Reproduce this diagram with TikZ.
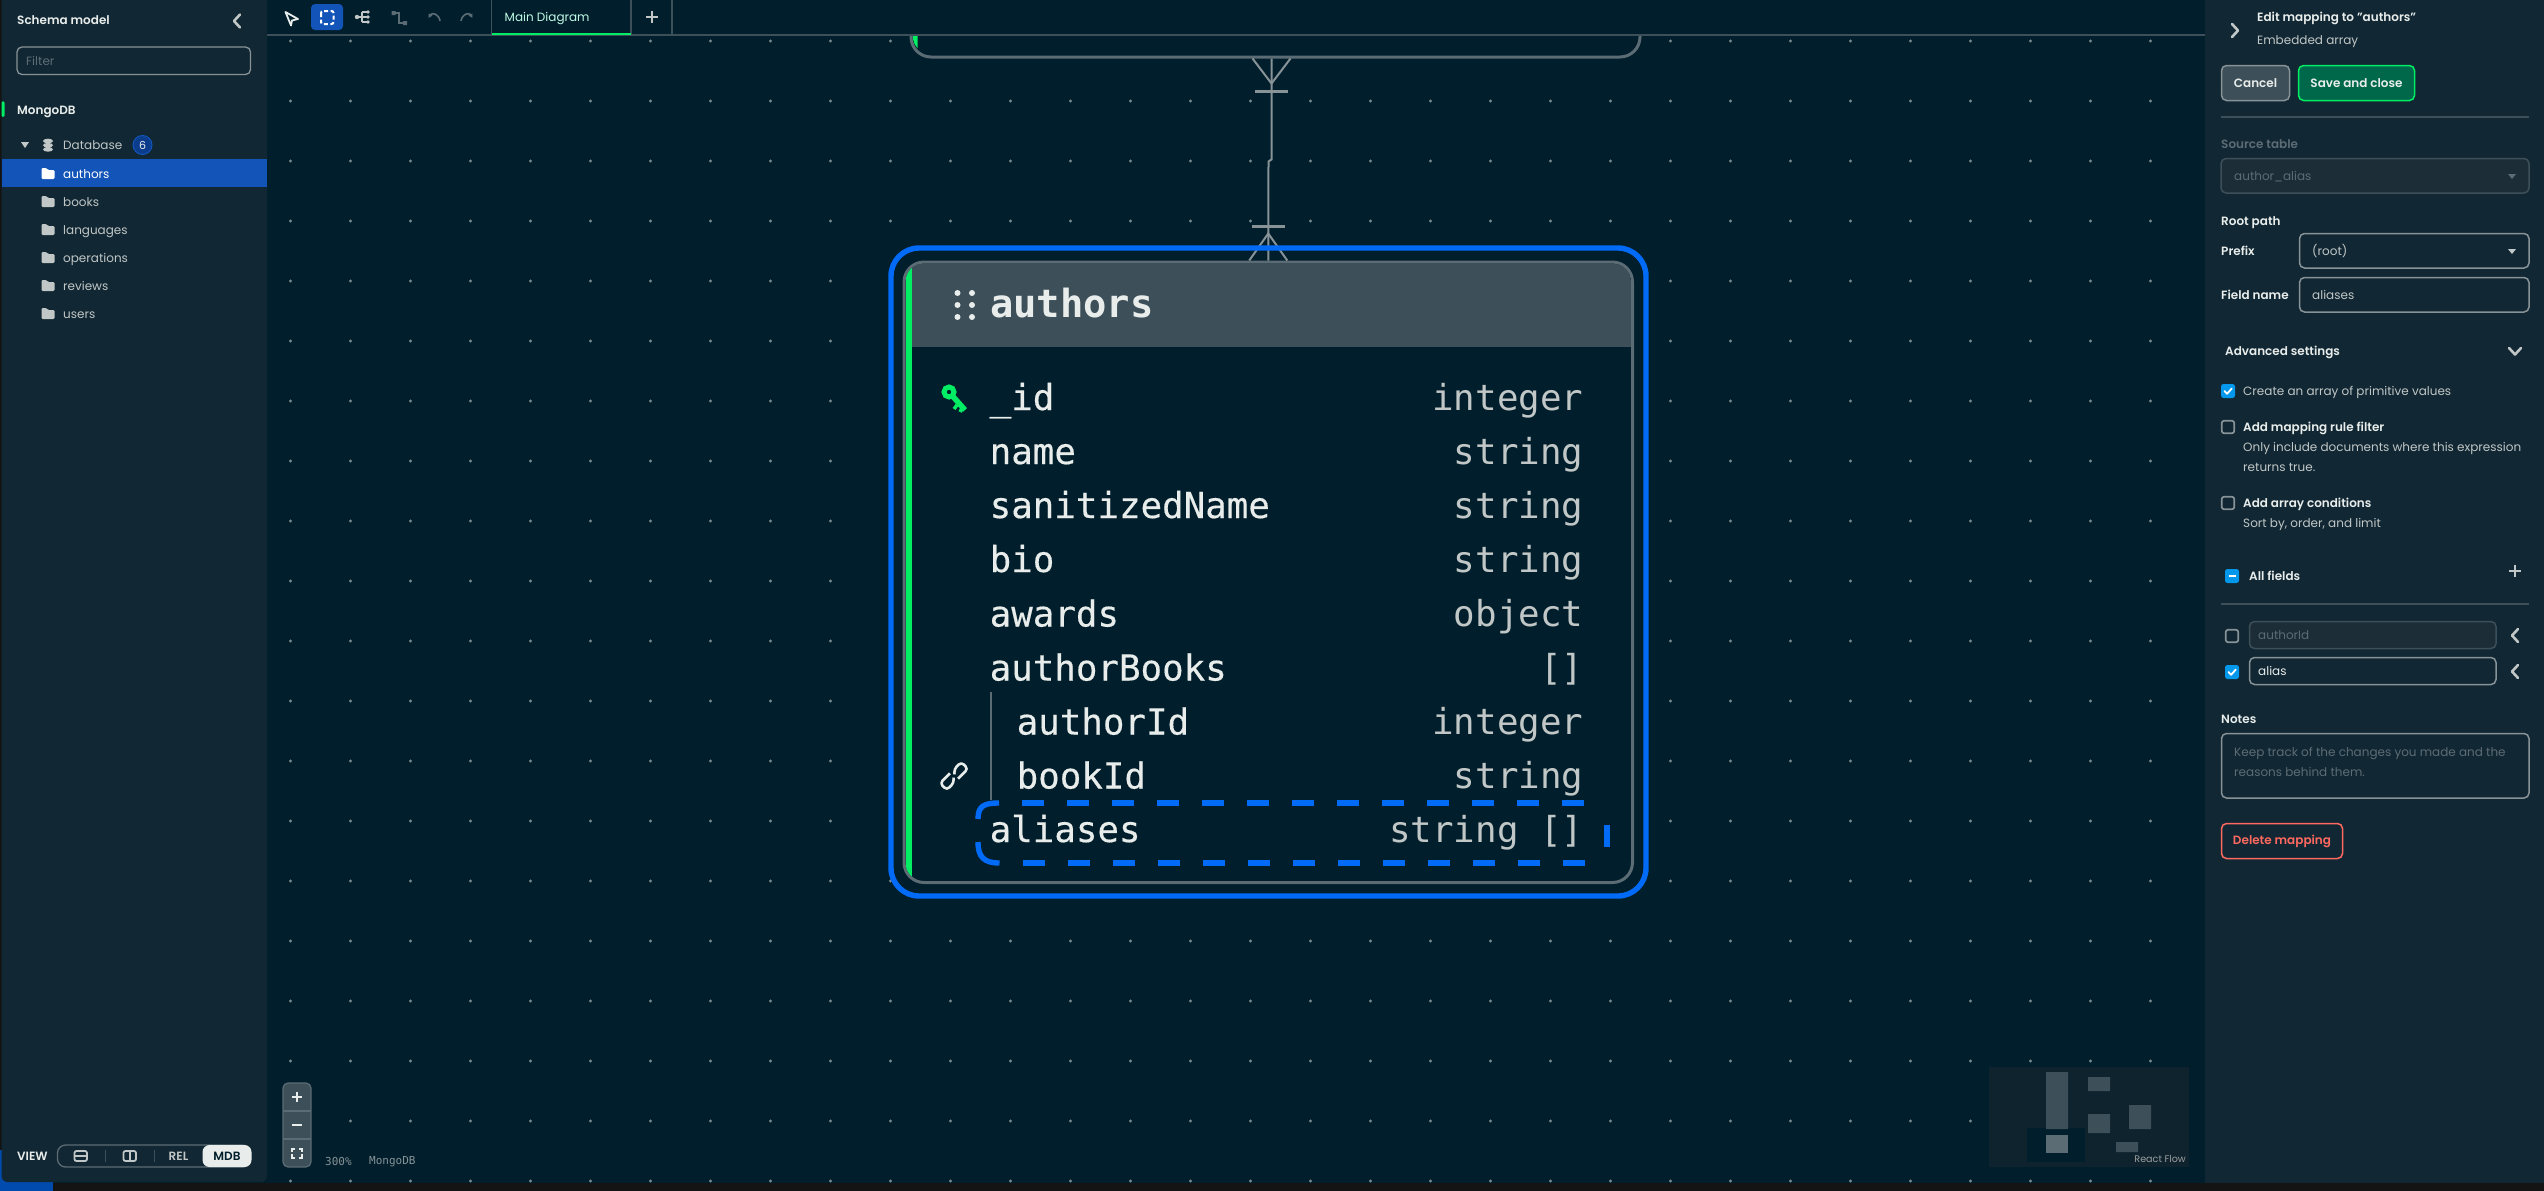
\documentclass[tikz,border=0pt]{standalone}
\usepackage{fontspec}
\usetikzlibrary{arrows.meta}
\setmainfont[BoldFont={Poppins SemiBold}]{Poppins}
\newfontfamily\monof{DejaVu Sans Mono}
\newfontfamily\monofb[FakeBold=0.35]{DejaVu Sans Mono}
\definecolor{canvasbg}{HTML}{001E2B}
\definecolor{panelbg}{HTML}{112733}
\definecolor{headbg}{HTML}{3D4F58}
\definecolor{edgegray}{HTML}{5C6C75}
\definecolor{midgray}{HTML}{889397}
\definecolor{softtxt}{HTML}{C1C7C6}
\definecolor{txtw}{HTML}{E8EDEB}
\definecolor{selblue}{HTML}{016BF8}
\definecolor{rowblue}{HTML}{1254B7}
\definecolor{mgreen}{HTML}{00ED64}
\definecolor{chkblue}{HTML}{0498EC}
\definecolor{disbg}{HTML}{1C2D38}
\definecolor{redc}{HTML}{FF6960}
\definecolor{dotc}{HTML}{7A8A90}
\definecolor{tabtxt}{HTML}{C0FAE6}
\definecolor{badgec}{HTML}{0C3C8C}
\definecolor{miniback}{HTML}{0F232E}
\definecolor{savebg}{HTML}{00684A}
\tikzset{
  ui/.style={inner sep=0pt,anchor=base west,text=softtxt,font=\fontsize{12}{14}\selectfont,yshift=-4.3pt},
  uib/.style={inner sep=0pt,anchor=base west,text=txtw,font=\fontsize{12}{14}\selectfont\bfseries,yshift=-4.3pt},
  fname/.style={inner sep=0pt,anchor=base west,text=txtw,font=\monofb\fontsize{35.8}{40}\selectfont},
  ftype/.style={inner sep=0pt,anchor=base east,text=softtxt,font=\monof\fontsize{35.8}{40}\selectfont},
  btn/.style={inner sep=0pt,rounded corners=5pt,line width=1.5pt,font=\fontsize{12}{14}\selectfont\bfseries},
  inp/.style={rounded corners=5pt,line width=1.5pt,draw=midgray,fill=panelbg},
  disinp/.style={rounded corners=5pt,line width=1.5pt,draw=headbg,fill=disbg},
  chev/.style={line width=2.6pt,line cap=round,line join=round},
  conn/.style={draw=midgray,line width=2pt},
  pics/folder/.style={code={
    \fill[#1,rounded corners=1.2pt] (-6.5,-6) -- (-1.5,-6) -- (0,-4) -- (6.5,-4) -- (6.5,5) -- (-6.5,5) -- cycle;}},
  pics/boxon/.style={code={
    \fill[chkblue,rounded corners=2.5pt] (-7,-7) rectangle (7,7);
    \draw[white,line width=1.8pt,line cap=round,line join=round] (-3.5,0) -- (-1,2.8) -- (3.8,-2.5);}},
  pics/boxoff/.style={code={
    \draw[midgray,line width=1.7pt,rounded corners=2.5pt] (-6.3,-6.3) rectangle (6.3,6.3);}}
}
\begin{document}
\begin{tikzpicture}[x=1pt,y=-1pt]
\useasboundingbox (0,0) rectangle (2544,1191);
% base
\fill[black!92] (0,0) rectangle (2544,1191);
\fill[canvasbg] (1.5,0) rectangle (2544,1183);
\fill[black!92] (0,1183) rectangle (2544,1191);
\fill[selblue!70!black] (0,1150) rectangle (53,1191);
% dots
\foreach \i in {0,...,32}{\foreach \j in {0,...,19}{
  \fill[dotc] ({290.5+60*\i},{41+60*\j}) circle (1.6);}}
% parent table
\node[draw=edgegray,fill=canvasbg,line width=3pt,rounded corners=20pt,inner sep=0pt,minimum width=729pt,minimum height=157pt] (parent) at (1275.5,-21.5) {};
\fill[mgreen] (912.8,36) -- (917.5,36) -- (917.5,48) .. controls (914.5,45) and (913,41) .. cycle;
% toolbar
\fill[canvasbg] (267,0) rectangle (2205,35);
\draw[headbg,line width=1.2pt] (267,35) -- (2205,35);
\fill[rowblue,rounded corners=4pt] (311,4) rectangle (343,30);
\draw[white,line width=2pt,dash pattern=on 4pt off 2.5pt,rounded corners=2pt] (321,11) rectangle (333.5,24);
\draw[txtw,line width=1.8pt,line join=round] (285.5,12) -- (298,19) -- (292,20.5) -- (291,25.5) -- cycle;
\draw[softtxt,line width=1.5pt] (357,17) -- (362,17) (362,12) -- (362,22) (362,12) -- (368,12) (362,17) -- (368,17) (362,22) -- (368,22);
\fill[softtxt] (357,17) circle (2.2) (368,12) circle (1.8) (368,17) circle (1.8) (368,22) circle (1.8);
\draw[edgegray,line width=1.8pt] (393,13) -- (399,13) -- (399,23) -- (405,23);
\fill[edgegray] (391.5,11) rectangle (395.5,15) (403,21) rectangle (407,25);
\draw[edgegray,line width=1.6pt,-{Latex[length=4pt,width=5pt]}] (440,21) .. controls (439,14) and (432,12) .. (428.5,18);
\draw[edgegray,line width=1.6pt,-{Latex[length=4pt,width=5pt]}] (461,21) .. controls (462,14) and (469,12) .. (472.5,18);
\draw[headbg,line width=1.2pt] (491.5,0) -- (491.5,35) (631,0) -- (631,35) (672,0) -- (672,35);
\fill[mgreen] (491.5,32.5) rectangle (631,35);
\node[ui,text=tabtxt] (tabmain) at (504.5,17.5) {Main Diagram};
\draw[softtxt,line width=2.6pt] (652,11) -- (652,23) (646,17) -- (658,17);
% authors table
\node[draw=edgegray,fill=canvasbg,line width=3pt,rounded corners=20pt,inner sep=0pt,minimum width=728.5pt,minimum height=620.5pt] (authors) at (1268.25,572.25) {};
\begin{scope}
\clip[rounded corners=18.5pt] (905.5,263.5) rectangle (1631,881);
\fill[headbg] (905.5,263.5) rectangle (1631,347);
\fill[mgreen] (905.5,263.5) rectangle (911.5,881);
\end{scope}
% connector
\coordinate (pfoot) at ([xshift=-4pt]parent.south);
\coordinate (afoot) at (authors.north);
\draw[conn] (pfoot) -- ++(0,101) -- ++(-3,2) -- (afoot);
\draw[conn] ([xshift=-19pt]pfoot) -- ([yshift=-25pt]pfoot) -- ([xshift=19pt]pfoot);
\draw[conn,line width=2.6pt] ([xshift=-16.5pt,yshift=-33pt]pfoot) -- ([xshift=16.5pt,yshift=-33pt]pfoot);
\draw[conn,line width=2.6pt] ([xshift=-16.5pt,yshift=34pt]afoot) -- ([xshift=16.5pt,yshift=34pt]afoot);
\draw[conn] ([xshift=-19pt]afoot) -- ([yshift=27pt]afoot) -- ([xshift=19pt]afoot);
% selection outline
\node[draw=selblue,line width=5.4pt,rounded corners=28pt,inner sep=0pt,minimum width=755pt,minimum height=648pt] (selection) at (1268.5,572) {};
% header
\node[inner sep=0pt,anchor=base west,text=txtw,font=\monof\bfseries\fontsize{38.8}{42}\selectfont] (title) at (990,317) {authors};
\foreach \dx in {957.5,972}{\foreach \dy in {293,305,317}{\fill[txtw] (\dx,\dy) circle (3);}}
% rows
\node[fname] (n1) at (989.5,410) {\_id};
\node[ftype] (t1) at (1583.5,410) {integer};
\node[fname] (n2) at (989.5,464) {name};
\node[ftype] (t2) at (1583.5,464) {string};
\node[fname] (n3) at (989.5,518) {sanitizedName};
\node[ftype] (t3) at (1583.5,518) {string};
\node[fname] (n4) at (989.5,572) {bio};
\node[ftype] (t4) at (1583.5,572) {string};
\node[fname] (n5) at (989.5,626.5) {awards};
\node[ftype] (t5) at (1583.5,626.5) {object};
\node[fname] (n6) at (989.5,680.5) {authorBooks};
\node[ftype] (t6) at (1583.5,680.5) {[]};
\node[fname] (n7) at (1016.5,734.5) {authorId};
\node[ftype] (t7) at (1583.5,734.5) {integer};
\node[fname] (n8) at (1016.5,788.5) {bookId};
\node[ftype] (t8) at (1583.5,788.5) {string};
\node[fname] (n9) at (989.5,842) {aliases};
\node[ftype] (t9) at (1583.5,842) {string []};
\draw[edgegray,line width=2pt] (990.7,692) -- (990.7,800);
% key icon
\draw[mgreen,line width=5pt] (949,392) circle (5);
\draw[mgreen,line width=5.5pt] (952.5,396) -- (965,410);
\draw[mgreen,line width=3.5pt] (957,405) -- (954,409) (962,408) -- (960,412);
% link icon
\begin{scope}[shift={(954,776)},rotate=45]
\draw[txtw,line width=2.6pt,rounded corners=3.5pt,line join=round] (-1,-4.8) -- (-15,-4.8) -- (-15,4.8) -- (-5,4.8) -- (-1.5,0.8);
\draw[txtw,line width=2.6pt,rounded corners=3.5pt,line join=round] (1,4.8) -- (15,4.8) -- (15,-4.8) -- (5,-4.8) -- (1.5,-0.8);
\end{scope}
% dashed drop frame
\foreach \k in {0,...,12}{
  \fill[selblue] ({1022+45*\k},800.3) rectangle ++(22,5.4);
  \fill[selblue] ({1023+45*\k},860.3) rectangle ++(22,5.4);}
\draw[selblue,line width=5.4pt] (999,803) .. controls (984,803) and (978,806) .. (978,819);
\draw[selblue,line width=5.4pt] (978,842) .. controls (978,857) and (984,863) .. (999.5,863);
\draw[selblue,line width=5.4pt] (1607,825) -- (1607,847);
% left sidebar
\fill[panelbg,rounded corners=6pt] (1.5,-10) rectangle (267,1182);
\node[uib] (schema) at (17,20.5) {Schema model};
\draw[softtxt,chev] (240,14.5) -- (234,21) -- (240,27.5);
\draw[midgray,line width=1.3pt,rounded corners=5pt] (17,47) rectangle (250.5,74.5);
\node[ui,text=edgegray] (filter) at (26,61) {Filter};
\fill[mgreen,rounded corners=1.5pt] (1.5,101) rectangle (4.5,117);
\node[uib] (mongo) at (17,110) {MongoDB};
\fill[softtxt] (21,142) -- (29,142) -- (25,148) -- cycle;
\fill[softtxt] (48,141) ellipse (5 and 2.3) (48,145.2) ellipse (5 and 2.3) (48,149.4) ellipse (5 and 2.3);
\node[ui] (db) at (63,145) {Database};
\node[circle,inner sep=0pt,minimum size=19pt,fill=badgec,draw=rowblue,line width=1pt,text=txtw,font=\fontsize{11}{13}\selectfont] (badge) at (142.5,145) {6};
\fill[rowblue] (1.5,159) rectangle (267,187);
\pic at (48,174) {folder=white};
\node[ui,text=white] (r1) at (63,174) {authors};
\pic at (48,202) {folder=softtxt};
\node[ui] (r2) at (63,202) {books};
\pic at (48,230) {folder=softtxt};
\node[ui] (r3) at (63,230) {languages};
\pic at (48,258) {folder=softtxt};
\node[ui] (r4) at (63,258) {operations};
\pic at (48,286) {folder=softtxt};
\node[ui] (r5) at (63,286) {reviews};
\pic at (48,314) {folder=softtxt};
\node[ui] (r6) at (63,314) {users};
% view switch
\node[uib] (view) at (17,1156) {VIEW};
\draw[edgegray,line width=1.3pt,rounded corners=8pt] (57.5,1145) rectangle (250.5,1167);
\draw[softtxt,line width=1.8pt,rounded corners=2pt] (74.5,1151) rectangle (87,1161);
\draw[softtxt,line width=1.5pt] (74.5,1156) -- (87,1156);
\draw[softtxt,line width=1.8pt,rounded corners=2pt] (123.5,1151) rectangle (136,1161);
\draw[softtxt,line width=1.5pt] (130,1151) -- (130,1161);
\draw[headbg,line width=1.2pt] (105.5,1150) -- (105.5,1162) (154.5,1150) -- (154.5,1162);
\node[inner sep=0pt,text=softtxt,font=\fontsize{12}{14}\selectfont\bfseries] (rel) at (178.5,1156) {REL};
\node[fill=txtw,rounded corners=7pt,minimum width=49pt,minimum height=22pt,inner sep=0pt,text=canvasbg,font=\fontsize{12}{14}\selectfont\bfseries] (mdb) at (227,1156) {MDB};
% zoom controls
\fill[headbg,rounded corners=5pt] (283,1083) rectangle (311,1167);
\draw[edgegray,line width=1.2pt,rounded corners=5pt] (283,1083) rectangle (311,1167);
\draw[edgegray,line width=1.4pt] (283,1111) -- (311,1111) (283,1139) -- (311,1139);
\draw[txtw,line width=2pt] (297,1092) -- (297,1102) (292,1097) -- (302,1097) (292,1125) -- (302,1125);
\draw[txtw,line width=1.6pt] (292,1152) |- (295,1149) (299,1149) -| (302,1152) (302,1154) |- (299,1158) (295,1158) -| (292,1154);
\node[inner sep=0pt,anchor=west,text=midgray,font=\monof\fontsize{11}{13}\selectfont] (pct) at (325,1161.5) {300\%};
\node[inner sep=0pt,anchor=west,text=midgray,font=\monof\fontsize{11}{13}\selectfont] (mdbl) at (369,1161.5) {MongoDB};
% minimap
\fill[miniback] (1989,1067) rectangle (2189,1167);
\fill[canvasbg] (2027,1128) rectangle (2085,1162);
\fill[headbg] (2046,1072) rectangle (2068,1129) (2088,1077) rectangle (2110,1091) (2088,1114) rectangle (2110,1133) (2129,1105) rectangle (2151,1129) (2116,1142) rectangle (2138,1152);
\fill[edgegray] (2046,1135) rectangle (2068,1153);
\node[inner sep=0pt,anchor=east,text=softtxt!80!black,font=\fontsize{9.6}{12}\selectfont] (rflow) at (2186,1159) {React Flow};
% right panel
\fill[panelbg] (2205,0) rectangle (2544,1183);
\draw[softtxt,chev] (2232,24) -- (2238,30.5) -- (2232,37);
\node[uib] (ptitle) at (2257,17.5) {Edit mapping to "authors"};
\node[ui] (psub) at (2257,40.5) {Embedded array};
\node[btn,draw=midgray,fill=headbg,text=txtw,minimum width=68pt,minimum height=35pt] (cancel) at (2255.5,83) {Cancel};
\node[btn,draw=mgreen,fill=savebg,text=txtw,minimum width=116pt,minimum height=35pt] (save) at (2356.5,83) {Save and close};
\draw[headbg,line width=1.2pt] (2221,117) -- (2529,117);
\node[uib,text=edgegray] (srct) at (2221,144.5) {Source table};
\draw[disinp] (2221,158.5) rectangle (2529,193);
\node[ui,text=edgegray] (srcv) at (2234,176.5) {author\_alias};
\fill[edgegray] (2508,174) -- (2516,174) -- (2512,179) -- cycle;
\node[uib] (root) at (2221,221.5) {Root path};
\node[uib] (prefix) at (2221,251.5) {Prefix};
\draw[inp] (2299.5,233.5) rectangle (2529,268);
\node[ui] (prefv) at (2312,251.5) {(root)};
\fill[softtxt] (2508,249) -- (2516,249) -- (2512,254) -- cycle;
\node[uib] (fieldn) at (2221,295.5) {Field name};
\draw[inp] (2299.5,277.5) rectangle (2529,312);
\node[ui] (fieldv) at (2312,295.5) {aliases};
\node[uib] (adv) at (2225,351.5) {Advanced settings};
\draw[softtxt,chev] (2509,348) -- (2515,354.5) -- (2521,348);
\pic at (2228,391) {boxon};
\node[ui] (arr) at (2243,391) {Create an array of primitive values};
\pic at (2228,427) {boxoff};
\node[uib] (amr) at (2243,427.5) {Add mapping rule filter};
\node[ui] (amr1) at (2243,447.5) {Only include documents where this expression};
\node[ui] (amr2) at (2243,467.5) {returns true.};
\pic at (2228,503) {boxoff};
\node[uib] (aac) at (2243,503.5) {Add array conditions};
\node[ui] (aac1) at (2243,523.5) {Sort by, order, and limit};
\fill[chkblue,rounded corners=2.5pt] (2225,569) rectangle (2239,583);
\draw[white,line width=2pt] (2228.5,576) -- (2235.5,576);
\node[uib] (allf) at (2249,576) {All fields};
\draw[softtxt,line width=2.6pt] (2515,565) -- (2515,577) (2509,571) -- (2521,571);
\draw[headbg,line width=1.2pt] (2221,604) -- (2529,604);
\pic at (2232,636) {boxoff};
\draw[disinp] (2249.5,621.5) rectangle (2496,648.5);
\node[ui,text=edgegray] (fa) at (2258,635.5) {authorId};
\draw[softtxt,chev] (2518,629) -- (2512,635.5) -- (2518,642);
\pic at (2232,672) {boxon};
\draw[inp] (2249.5,657.5) rectangle (2496,684.5);
\node[ui,text=txtw] (fb) at (2258,671.5) {alias};
\draw[softtxt,chev] (2518,665) -- (2512,671.5) -- (2518,678);
\node[uib] (notes) at (2221,719.5) {Notes};
\draw[inp] (2221.5,733.5) rectangle (2529,798);
\node[ui,text=edgegray] (nt1) at (2234,752.5) {Keep track of the changes you made and the};
\node[ui,text=edgegray] (nt2) at (2234,772.5) {reasons behind them.};
\node[btn,draw=redc,fill=panelbg,text=redc,minimum width=121pt,minimum height=35pt] (del) at (2282,841) {Delete mapping};
\end{tikzpicture}
\end{document}
